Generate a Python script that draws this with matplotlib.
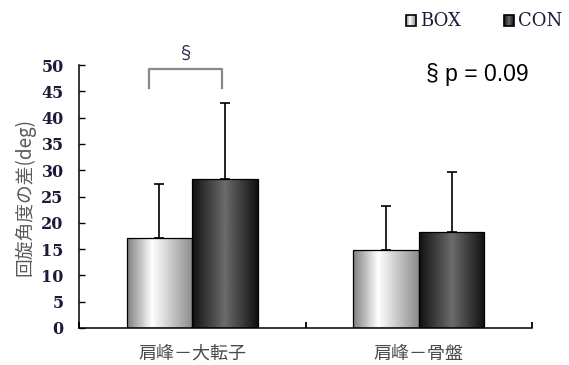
import numpy as np
import matplotlib.pyplot as plt
from matplotlib.patches import Rectangle

plt.rcParams['font.family'] = ['Noto Sans CJK JP', 'DejaVu Sans']

# mean rotation-angle difference and SD (deg)
sites = ['肩峰－大転子', '肩峰－骨盤']
box_mean = [17.1, 14.8]
box_sd = [10.2, 8.4]
con_mean = [28.4, 18.2]
con_sd = [14.3, 11.4]
series = ['BOX', 'CON']
yticks = list(range(0, 51, 5))

W, H = 569, 365
fig = plt.figure(figsize=(W / 100, H / 100), dpi=100)
ax = fig.add_axes([79 / W, (H - 328) / H, (532 - 79) / W, (328 - 65) / H])

# horizontal shading profiles for the two bar types
t = np.linspace(0, 1, 64)
box_prof = np.interp(t, [0, 0.38, 1], [0.50, 1.0, 0.55])
con_prof = np.interp(t, [0, 0.5, 1], [0.07, 0.42, 0.07])


def shaded_bar(axis, x0, w, h, prof):
    im = axis.imshow(prof[None, :], cmap='gray', vmin=0, vmax=1, aspect='auto',
                     extent=[x0, x0 + w, 0, h], interpolation='bilinear', zorder=2)
    r = Rectangle((x0, 0), w, h, facecolor='none', edgecolor='black', lw=0.9, zorder=3)
    axis.add_patch(r)
    im.set_clip_path(r)


x = np.arange(len(sites))
bw = 0.29
for i in x:
    shaded_bar(ax, i - bw, bw, box_mean[i], box_prof)
    shaded_bar(ax, i, bw, con_mean[i], con_prof)
ax.errorbar(x - bw / 2, box_mean, yerr=[np.zeros(2), box_sd], fmt='none',
            ecolor='black', elinewidth=1.2, capsize=3.6, capthick=1.2, zorder=4)
ax.errorbar(x + bw / 2, con_mean, yerr=[np.zeros(2), con_sd], fmt='none',
            ecolor='black', elinewidth=1.2, capsize=3.6, capthick=1.2, zorder=4)

ax.set_xlim(-0.5, 1.5)
ax.set_ylim(0, 50)
ax.set_yticks(yticks)
ax.set_yticklabels([str(v) for v in yticks], family='DejaVu Serif',
                   fontsize=11.5, fontweight='bold', color='#1c1c3a')
ax.tick_params(axis='y', direction='in', length=4, width=1, pad=11)
ax.set_xticks([-0.5, 0.5, 1.5])
ax.set_xticklabels([])
ax.tick_params(axis='x', direction='in', length=4, width=1.3)
for i, s in enumerate(sites):
    ax.text(i, -4.9, s, ha='center', va='center', fontsize=13, color='#4a4a4a')
for side in ['top', 'right']:
    ax.spines[side].set_visible(False)
for side in ['left', 'bottom']:
    ax.spines[side].set_linewidth(1.1)
ax.set_ylabel('回旋角度の差(deg)', fontsize=13.5, color='#5a5a5a', labelpad=4)

# significance bracket
ax.plot([-0.19, -0.19, 0.13, 0.13], [45.6, 49.2, 49.2, 45.6], color='#888888',
        lw=1.6, clip_on=False)
ax.text(-0.03, 52.2, '§', ha='center', va='center', fontsize=13,
        color='#333355', clip_on=False)
fig.text(477 / W, 1 - 75 / H, '§ p = 0.09', ha='center', va='center',
         fontsize=16.5, family='Liberation Sans', color='black')

# legend swatches drawn in figure pixel space
lax = fig.add_axes([0, 0, 1, 1], zorder=5)
lax.set_xlim(0, W)
lax.set_ylim(H, 0)
lax.axis('off')
for (sx, name, prof) in [(406, series[0], box_prof), (504, series[1], con_prof)]:
    im = lax.imshow(prof[None, :], cmap='gray', vmin=0, vmax=1, aspect='auto',
                    extent=[sx, sx + 10, 26, 15], interpolation='bilinear')
    r = Rectangle((sx, 15), 10, 11, facecolor='none', edgecolor='black', lw=1.2)
    lax.add_patch(r)
    im.set_clip_path(r)
    lax.text(sx + 14, 21, name, ha='left', va='center', family='DejaVu Serif',
             fontsize=13, color='#1c1c3a')

fig.savefig('out.png', dpi=100)
